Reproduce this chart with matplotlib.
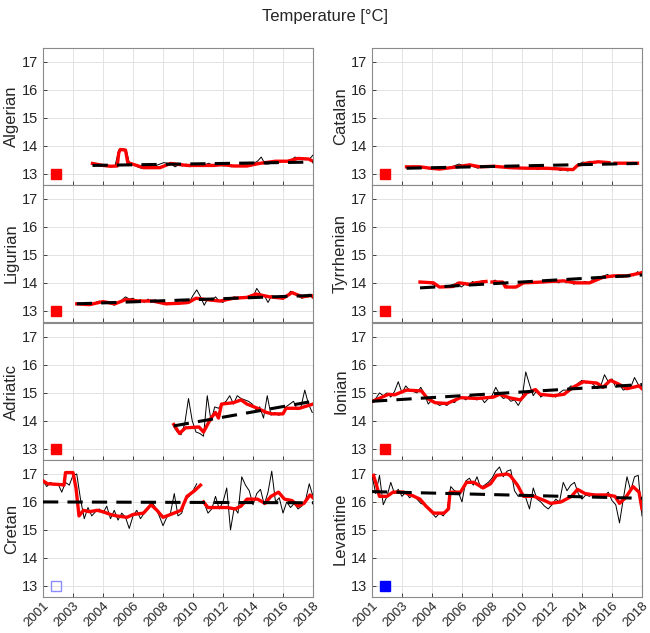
import numpy as np
import matplotlib
matplotlib.use("Agg")
import matplotlib.pyplot as plt

plt.rcParams['font.family'] = ['Liberation Sans', 'DejaVu Sans']

# panel names (left column then right column, top to bottom)
names = ['Algerian', 'Ligurian', 'Adriatic', 'Cretan',
         'Catalan', 'Tyrrhenian', 'Ionian', 'Levantine']

xtick_pos = [2000, 2002, 2004, 2006, 2008, 2010, 2012, 2014, 2016, 2018]
xtick_lab = ['2001', '2003', '2004', '2006', '2008', '2010', '2012', '2014', '2016', '2018']

# raw series: start year, quarterly step
raw_start = {'Algerian': 2003.3, 'Catalan': 2002.3, 'Ligurian': 2002.25, 'Tyrrhenian': 2003.2,
             'Adriatic': 2008.7, 'Ionian': 2000.0, 'Cretan': 2000.0, 'Levantine': 2000.0}
raw_step = 0.25

raw_algerian = [13.35, 13.32, 13.3, 13.28, 13.3, 13.25, 13.28, 13.85, 13.9, 13.85, 13.3, 13.35,
                13.25, 13.2, 13.22, 13.2, 13.25, 13.3, 13.35, 13.4, 13.38, 13.35, 13.25, 13.32,
                13.28, 13.35, 13.25, 13.3, 13.35, 13.28, 13.32, 13.38, 13.3, 13.33, 13.3, 13.28,
                13.3, 13.25, 13.3, 13.28, 13.35, 13.3, 13.4, 13.38, 13.45, 13.6, 13.35, 13.35,
                13.42, 13.45, 13.4, 13.48, 13.45, 13.5, 13.6, 13.55, 13.52, 13.5, 13.55, 13.7]
raw_catalan = [13.22, 13.25, 13.28, 13.24, 13.22, 13.2, 13.18, 13.15, 13.17, 13.2, 13.18, 13.22,
               13.25, 13.3, 13.35, 13.3, 13.32, 13.28, 13.25, 13.2, 13.25, 13.28, 13.25, 13.27,
               13.25, 13.22, 13.27, 13.22, 13.2, 13.23, 13.18, 13.2, 13.22, 13.18, 13.2, 13.15,
               13.2, 13.17, 13.22, 13.15, 13.18, 13.12, 13.15, 13.1, 13.15, 13.25, 13.35, 13.42,
               13.4, 13.45, 13.42, 13.45, 13.4, 13.43, 13.38, np.nan, 13.4, 13.38, 13.36, 13.4,
               13.38, 13.36]
raw_ligurian = [13.25, 13.27, 13.24, 13.2, 13.22, 13.3, 13.35, 13.28, 13.32, 13.25, 13.2, 13.3,
                13.38, 13.5, 13.42, 13.45, 13.35, 13.4, 13.3, 13.42, 13.33, 13.4, 13.28, 13.25,
                13.22, 13.3, 13.25, 13.35, 13.4, 13.25, 13.3, 13.55, 13.75, 13.5, 13.2, 13.45,
                13.35, 13.5, 13.35, 13.3, 13.45, 13.4, 13.5, 13.45, 13.5, 13.45, 13.55, 13.5,
                13.8, 13.6, 13.55, 13.3, 13.55, 13.45, 13.5, 13.42, 13.5, 13.7, 13.65, 13.55,
                13.45, 13.5, 13.6, 13.45]
raw_tyrrhenian = [14.0, 14.02, 14.0, 13.98, 13.9, 13.85, 13.88, 13.85, 13.9, 13.95, 14.0, 13.85,
                  13.95, 13.9, 14.05, 13.95, 14.05, 14.08, np.nan, 14.02, 14.1, 14.0, 14.05, 13.9,
                  13.85, 13.82, 13.9, 13.95, 14.0, 14.05, 14.0, 14.03, 14.05, 14.0, 14.08, 14.1,
                  14.05, 14.0, 14.1, 14.0, 14.05, 13.95, 14.02, 14.0, 14.05, 14.0, 14.1, 14.15,
                  14.2, 14.25, 14.3, 14.2, 14.25, 14.3, 14.2, 14.25, 14.3, 14.25, 14.4, 14.3]
raw_adriatic = [13.8, 13.6, 13.5, 13.9, 14.8, 14.0, 13.6, 13.55, 13.45, 14.9, 14.0, 14.5,
                14.45, 14.6, 14.7, 14.9, 14.6, 14.9, 14.8, 14.75, 14.7, 14.6, 14.4, 14.5,
                14.1, 14.9, 14.2, 14.3, 14.2, 14.25, 14.5, 14.6, 14.7, 14.4, 14.5, 15.1,
                14.6, 14.3]
raw_ionian = [14.7, 14.8, 15.0, 14.9, 15.0, 14.85, 15.05, 15.4, 15.0, 15.25, 15.1, 15.05,
              15.0, 15.2, 14.95, 14.6, 14.75, 14.65, 14.55, 14.6, 14.55, 14.7, 14.65, 14.8,
              14.85, 14.75, 14.9, 14.8, 14.75, 14.85, 14.65, 14.8, 14.9, 15.2, 14.95, 14.8,
              14.85, 14.7, 14.75, 14.55, 14.8, 15.75, 15.3, 14.9, 15.1, 14.85, 14.95, 14.9,
              14.95, 14.85, 15.0, 15.1, 15.1, 15.25, 15.2, 15.35, 15.45, 15.35, 15.4, 15.3,
              15.15, 15.25, 15.65, 15.4, 15.5, 15.2, 15.3, 15.1, 15.15, 15.2, 15.55, 15.3, 15.15]
raw_cretan = [16.75, 16.55, 16.7, 16.6, 16.65, 16.35, 16.7, 16.6, 16.95, 17.0, 16.1, 15.4,
              15.8, 15.5, 15.65, 15.75, 15.6, 15.85, 15.4, 15.7, 15.35, 15.6, 15.45, 15.05,
              15.5, 15.7, 15.4, 15.6, 15.75, 16.0, 15.8, 15.5, 15.15, 15.45, 15.6, 16.3,
              15.5, 15.6, 16.1, 16.2, 16.4, 16.65, np.nan, 15.95, 15.6, 15.75, 16.2, 15.75,
              16.0, 16.5, 15.0, 15.8, 15.6, 16.9, 16.6, 16.4, 15.9, 16.3, 16.45, 15.9,
              16.35, 17.1, 16.0, 16.15, 15.6, 16.0, 15.8, 15.95, 15.75, 15.85, 16.05, 16.65, 16.2]
raw_levantine = [16.95, 16.3, 16.95, 15.9, 16.2, 16.7, 16.3, 16.45, 16.2, 16.35, 16.15, 16.25,
                 16.1, 15.95, 15.9, 15.75, 15.6, 15.45, 15.6, 15.5, 15.7, 16.55, 16.4, 16.35,
                 16.0, 16.75, 16.85, 16.6, 16.9, 16.5, 16.6, 16.7, 16.85, 17.1, 17.25, 16.9,
                 17.1, 17.15, 16.4, 16.2, 16.3, 16.15, 15.75, 16.5, 16.1, 16.0, 15.85, 15.75,
                 15.9, 16.1, 16.0, 16.7, 16.4, 16.6, 16.7, 16.3, 16.1, 16.25, 16.2, 16.3,
                 16.2, 16.25, 16.2, 16.35, 16.05, 15.9, 15.25, 16.1, 16.9, 16.4, 16.9, 16.95, 15.5]

# smoothed series (year, value); nan marks a gap
smooth_x = {
    'Algerian': [2003.3, 2004.0, 2004.5, 2004.95, 2005.05, 2005.15, 2005.5, 2005.65, 2005.95, 2006.7,
                 2007.8, 2008.5, 2009.6, 2011.4, 2012.0, 2012.7, 2013.6, 2014.4, 2015.5, 2016.3,
                 2017.0, 2017.7, 2018.0],
    'Catalan': [2002.3, 2003.2, 2003.9, 2004.5, 2005.4, 2006.5, 2007.2, 2008.1, 2009.2, 2010.3,
                2011.6, 2012.7, 2013.4, 2013.7, 2014.3, 2015.1, 2015.8, 2016.0, 2016.2, 2017.7],
    'Ligurian': [2002.25, 2003.1, 2004.0, 2004.8, 2005.5, 2006.4, 2007.3, 2008.2, 2009.1, 2009.7,
                 2010.2, 2010.9, 2011.8, 2012.7, 2013.6, 2014.2, 2015.1, 2016.0, 2016.6, 2017.3,
                 2017.9, 2018.0],
    'Tyrrhenian': [2003.2, 2004.1, 2004.5, 2005.4, 2005.8, 2006.5, 2006.9, 2007.6, 2007.8, 2008.0,
                   2008.7, 2008.9, 2009.6, 2010.1, 2011.0, 2011.9, 2012.8, 2013.6, 2014.5, 2015.4,
                   2016.1, 2017.0, 2017.9, 2018.0],
    'Adriatic': [2008.72, 2009.1, 2009.5, 2010.4, 2010.7, 2011.2, 2011.5, 2011.7, 2011.9, 2012.7,
                 2013.2, 2013.6, 2014.3, 2014.9, 2015.3, 2016.0, 2016.2, 2017.1, 2018.0],
    'Ionian': [2000.05, 2001.1, 2001.5, 2002.3, 2003.3, 2003.7, 2004.2, 2005.0, 2005.9, 2007.0,
               2008.1, 2008.5, 2009.2, 2009.9, 2010.3, 2010.9, 2011.2, 2012.1, 2012.8, 2013.4,
               2014.1, 2015.0, 2015.4, 2015.9, 2016.5, 2017.0, 2017.8, 2018.0],
    'Cretan': [2000.04, 2000.3, 2001.2, 2001.4, 2001.5, 2002.0, 2002.2, 2002.4, 2002.7, 2003.1,
               2003.6, 2004.0, 2004.5, 2004.9, 2005.6, 2006.0, 2006.7, 2007.2, 2007.6, 2008.0,
               2008.5, 2009.2, 2009.6, 2010.1, 2010.5, 2010.6, 2010.7, 2011.0, 2012.3, 2012.8,
               2013.2, 2013.6, 2014.3, 2014.8, 2015.2, 2015.7, 2016.1, 2016.6, 2017.0, 2017.4,
               2017.8, 2018.0],
    'Levantine': [2000.1, 2000.3, 2000.5, 2001.0, 2001.4, 2002.1, 2002.8, 2003.2, 2003.6, 2004.1,
                  2004.8, 2005.1, 2005.2, 2005.9, 2006.3, 2006.8, 2007.4, 2007.9, 2008.3, 2009.0,
                  2009.2, 2009.7, 2010.1, 2010.8, 2011.5, 2011.9, 2012.6, 2013.3, 2013.7, 2014.2,
                  2014.8, 2015.7, 2016.2, 2016.5, 2016.9, 2017.4, 2017.8, 2018.0],
}
smooth_y = {
    'Algerian': [13.37, 13.3, 13.27, 13.28, 13.75, 13.87, 13.85, 13.4, 13.35, 13.22,
                 13.22, 13.37, 13.3, 13.3, 13.33, 13.28, 13.28, 13.37, 13.45, 13.45,
                 13.55, 13.53, 13.45],
    'Catalan': [13.25, 13.25, 13.2, 13.17, 13.23, 13.32, 13.25, 13.27, 13.22, 13.2,
                13.2, 13.17, 13.15, 13.3, 13.38, 13.43, 13.4, np.nan, 13.38, 13.38],
    'Ligurian': [13.25, 13.22, 13.33, 13.25, 13.4, 13.35, 13.35, 13.25, 13.27, 13.3,
                 13.45, 13.4, 13.35, 13.45, 13.48, 13.6, 13.5, 13.45, 13.65, 13.5,
                 13.55, 13.5],
    'Tyrrhenian': [14.03, 14.0, 13.85, 13.87, 14.0, 13.95, 14.0, 14.05, np.nan, 14.03,
                   14.03, 13.85, 13.85, 14.0, 14.02, 14.05, 14.07, 14.0, 14.0, 14.2,
                   14.25, 14.25, 14.35, 14.37],
    'Adriatic': [13.87, 13.55, 13.75, 13.78, 13.6, 14.1, 14.3, 14.1, 14.6, 14.65,
                 14.75, 14.6, 14.45, 14.3, 14.25, 14.25, 14.45, 14.45, 14.6],
    'Ionian': [14.7, 14.95, 14.93, 15.1, 15.07, 14.8, 14.65, 14.62, 14.83, 14.8,
               14.85, 14.95, 14.82, 14.75, 15.0, 15.12, 14.95, 14.9, 14.95, 15.2,
               15.4, 15.35, 15.2, 15.45, 15.3, 15.15, 15.25, 15.15],
    'Cretan': [16.74, 16.65, 16.62, 16.6, 17.05, 17.05, 16.5, 15.5, 15.7, 15.65,
               15.7, 15.65, 15.55, 15.5, 15.45, 15.55, 15.6, 15.9, 15.7, 15.45,
               15.55, 15.7, 16.2, 16.4, 16.6, np.nan, 16.0, 15.8, 15.8, 15.75,
               15.85, 16.1, 16.1, 15.95, 16.2, 16.35, 16.1, 16.05, 15.85, 15.95,
               16.25, 16.15],
    'Levantine': [16.95, 16.6, 16.2, 16.2, 16.35, 16.35, 16.2, 16.1, 15.85, 15.6,
                  15.6, 15.75, 16.35, 16.35, 16.7, 16.7, 16.5, 16.65, 16.95, 17.0,
                  16.95, 16.6, 16.2, 16.2, 16.05, 15.95, 16.0, 16.2, 16.45, 16.3,
                  16.25, 16.25, 16.2, 15.95, 16.15, 16.55, 16.35, 15.75],
}

# linear trend end points (start year, start value, end year, end value)
trend = {
    'Algerian': (2003.3, 13.3, 2018.0, 13.42),
    'Catalan': (2002.3, 13.2, 2017.7, 13.37),
    'Ligurian': (2002.25, 13.25, 2018.0, 13.55),
    'Tyrrhenian': (2003.2, 13.82, 2018.0, 14.28),
    'Adriatic': (2008.72, 13.82, 2018.0, 14.7),
    'Ionian': (2000.0, 14.7, 2018.0, 15.3),
    'Cretan': (2000.0, 16.0, 2018.0, 15.97),
    'Levantine': (2000.0, 16.37, 2018.0, 16.13),
}

raw = {'Algerian': raw_algerian, 'Catalan': raw_catalan, 'Ligurian': raw_ligurian,
       'Tyrrhenian': raw_tyrrhenian, 'Adriatic': raw_adriatic, 'Ionian': raw_ionian,
       'Cretan': raw_cretan, 'Levantine': raw_levantine}

# status square in the lower-left corner: (face, edge)
status = {'Algerian': ('red', 'red'), 'Ligurian': ('red', 'red'), 'Adriatic': ('red', 'red'),
          'Cretan': ('none', '#8c8cff'), 'Catalan': ('red', 'red'), 'Tyrrhenian': ('red', 'red'),
          'Ionian': ('red', 'red'), 'Levantine': ('blue', 'blue')}
status_x, status_y = 2000.85, 13.0

W, H = 650, 633
fig = plt.figure(figsize=(W / 100, H / 100), dpi=100)
fig.text(0.5, 1 - 17 / H, 'Temperature [°C]', ha='center', va='center', fontsize=12, color='#262626')

col_left = [43, 372]
ax_w = 270
row_top = [48, 185, 323, 460]
ax_h = 137

for i, name in enumerate(names):
    col, row = i // 4, i % 4
    ax = fig.add_axes([col_left[col] / W, 1 - (row_top[row] + ax_h) / H, ax_w / W, ax_h / H])

    y = np.array(raw[name])
    x = raw_start[name] + raw_step * np.arange(len(y))
    ax.plot(x, y, color='black', lw=0.7, zorder=3)
    ax.plot(smooth_x[name], smooth_y[name], color='red', lw=2.4, zorder=4)
    x0, y0, x1, y1 = trend[name]
    ax.plot([x0, x1], [y0, y1], color='black', lw=2.2, dashes=(5, 3), zorder=5)

    fc, ec = status[name]
    ax.plot(status_x, status_y, marker='s', ms=7.5, mfc=fc, mec=ec, mew=1.0, ls='none', zorder=6)

    ax.set_xlim(2000, 2018)
    ax.set_ylim(12.6, 17.5)
    ax.set_yticks([13, 14, 15, 16, 17])
    ax.set_xticks(xtick_pos)
    ax.grid(True, color='#e3e3e3', lw=0.7)
    ax.set_axisbelow(True)
    ax.tick_params(direction='in', length=3, colors='#262626', labelsize=10.5, width=0.6)
    ax.tick_params(axis='x', pad=2)
    for sp in ax.spines.values():
        sp.set_color('#8a8a8a')
        sp.set_linewidth(0.8)
    ax.set_ylabel(name, fontsize=12, color='#262626', labelpad=2)
    if row == 3:
        ax.set_xticklabels(xtick_lab, rotation=45, ha='right', rotation_mode='anchor', fontsize=9.5)
    else:
        ax.set_xticklabels([])

fig.savefig('out.png', dpi=100)
